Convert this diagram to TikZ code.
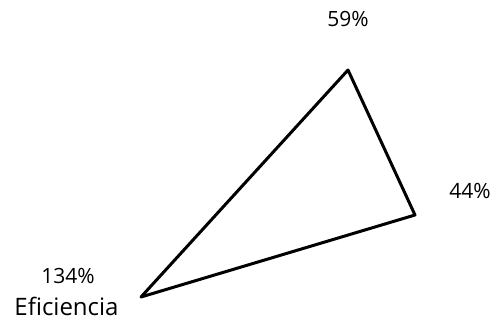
\documentclass[tikz,border=0pt]{standalone}
\usepackage{fontspec}
\setmainfont{Open Sans}
\usetikzlibrary{positioning}

\begin{document}
\begin{tikzpicture}[
          x=1pt, y=-1pt,
          every node/.style={inner sep=0pt, anchor=base},
          pct/.style={font=\fontsize{21}{23}\selectfont},
          axis/.style={font=\fontsize{24}{26}\selectfont},
          tri/.style={black,line width=3pt,line join=round},
        ]
        \useasboundingbox (0,0) rectangle (496,321);
        \coordinate (top) at (348,70);
        \coordinate (right) at (415,215);
        \coordinate (left) at (141,297);
        \draw[tri] (top) -- (right) -- (left) -- cycle;
        \node[pct] (ptop) at (348,27) {59\%};
        \node[pct] (pright) at (470,198) {44\%};
        \node[pct] (pleft) at (68,283) {134\%};
        \node[axis] (eff) at (66.5,315) {Eficiencia};
      \end{tikzpicture}
\end{document}
